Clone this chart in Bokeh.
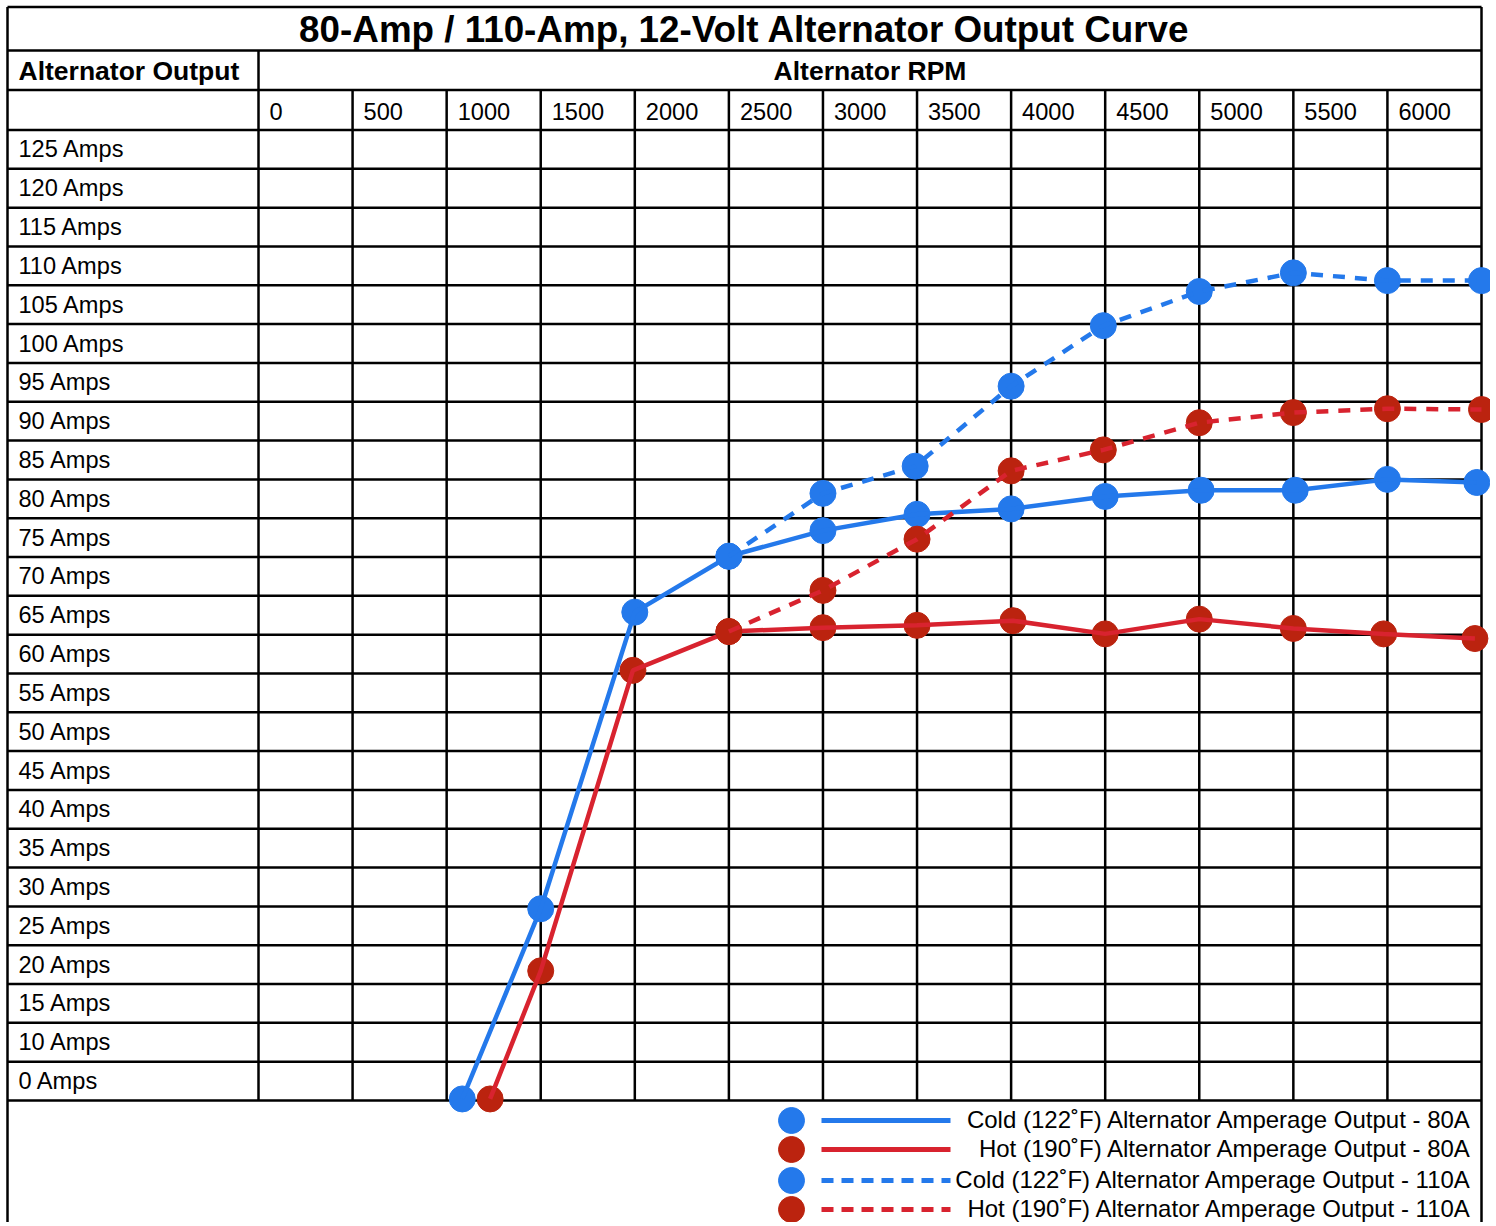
from bokeh.plotting import figure
from bokeh.models import Range1d
from bokeh.embed import file_html
from bokeh.resources import INLINE
from bokeh.core.properties import value

# ---------------- data ----------------
title_text = "80-Amp / 110-Amp, 12-Volt Alternator Output Curve"
row_header = "Alternator Output"
col_header = "Alternator RPM"

rpm_ticks = [0, 500, 1000, 1500, 2000, 2500, 3000, 3500, 4000, 4500, 5000, 5500, 6000]
rpm_max = 6500
amp_labels = ["125 Amps", "120 Amps", "115 Amps", "110 Amps", "105 Amps", "100 Amps",
              "95 Amps", "90 Amps", "85 Amps", "80 Amps", "75 Amps", "70 Amps", "65 Amps",
              "60 Amps", "55 Amps", "50 Amps", "45 Amps", "40 Amps", "35 Amps", "30 Amps",
              "25 Amps", "20 Amps", "15 Amps", "10 Amps", "0 Amps"]
amp_top = 130      # top grid line value
amp_step = 5       # amps per row

cold80_rpm = [1083, 1500, 2000, 2500, 3000, 3500, 4000, 4500, 5010, 5510, 6000, 6475]
cold80_amp = [5.2, 29.7, 67.9, 75.1, 78.4, 80.5, 81.2, 82.8, 83.6, 83.6, 85.0, 84.6]

hot80_rpm = [1231, 1500, 1990, 2500, 3000, 3500, 4010, 4500, 5000, 5500, 5980, 6465]
hot80_amp = [5.2, 21.7, 60.4, 65.4, 65.9, 66.2, 66.8, 65.1, 67.0, 65.8, 65.1, 64.5]

cold110_rpm = [2500, 3000, 3490, 4000, 4490, 5000, 5500, 6000, 6500]
cold110_amp = [75.1, 83.2, 86.7, 97.0, 104.8, 109.2, 111.6, 110.6, 110.6]

hot110_rpm = [2500, 3000, 3500, 4000, 4490, 5000, 5500, 6000, 6500]
hot110_amp = [65.4, 70.7, 77.3, 86.1, 88.8, 92.3, 93.6, 94.1, 94.0]

legend_labels = ["Cold (122˚F) Alternator Amperage Output - 80A",
                 "Hot (190˚F) Alternator Amperage Output - 80A",
                 "Cold (122˚F) Alternator Amperage Output - 110A",
                 "Hot (190˚F) Alternator Amperage Output - 110A"]

# ---------------- styles ----------------
BLUE = "#2479eb"
RED_DOT = "#bb230f"
RED_LINE = "#d8232f"
FONT = value("Liberation Sans")
GRID_W = 2.5

# layout helpers (page pixel -> data coordinates)
X0_PX, PX_PER_RPM = 258.0, (1481.0 - 258.0) / 6500.0
Y5_PX, PX_PER_AMP = 1100.0, (1100.0 - 129.5) / 125.0
ORIGIN = 0  # page pixel where the plot frame starts


def rpm_at(px):
    return (px - X0_PX) / PX_PER_RPM


def amp_at(py):
    return 5 + (Y5_PX - py) / PX_PER_AMP


W, H = 1490, 1222
p = figure(width=W, height=H, output_backend="svg", toolbar_location=None,
           x_range=Range1d(rpm_at(ORIGIN), rpm_at(ORIGIN + W)),
           y_range=Range1d(amp_at(ORIGIN + H), amp_at(ORIGIN)),
           min_border=0, outline_line_color=None)
p.xaxis.visible = False
p.yaxis.visible = False
p.xgrid.visible = False
p.ygrid.visible = False

x_left = rpm_at(7)
x_right = rpm_max
y_bottom_grid = amp_top - amp_step * len(amp_labels)
y_tickrow_top = amp_at(89.5)
y_header_top = amp_at(50)
y_top = amp_at(6.5)
y_page_bottom = amp_at(ORIGIN + H + 5)

# ---- table lines ----
h_ys = [amp_top - amp_step * i for i in range(len(amp_labels) + 1)] + [y_tickrow_top, y_header_top, y_top]
p.segment(x0=[x_left] * len(h_ys), x1=[x_right] * len(h_ys), y0=h_ys, y1=h_ys,
          line_color="black", line_width=GRID_W)
inner = rpm_ticks[1:]
p.segment(x0=inner, x1=inner, y0=[y_bottom_grid] * len(inner), y1=[y_tickrow_top] * len(inner),
          line_color="black", line_width=GRID_W)
p.segment(x0=[rpm_ticks[0]], x1=[rpm_ticks[0]], y0=[y_bottom_grid], y1=[y_header_top],
          line_color="black", line_width=GRID_W)
p.segment(x0=[x_left, x_right], x1=[x_left, x_right], y0=[y_page_bottom] * 2, y1=[y_top] * 2,
          line_color="black", line_width=GRID_W)

# ---- texts ----
p.text(x=[rpm_at(744)], y=[amp_at(28.5)], text=[title_text], text_font=FONT,
       text_font_size="36.8px", text_font_style="bold", text_align="center",
       text_baseline="middle", text_color="black")
p.text(x=[x_left], y=[amp_at(70.5)], text=[row_header], x_offset=11, text_font=FONT,
       text_font_size="26.5px", text_font_style="bold", text_align="left",
       text_baseline="middle", text_color="black")
p.text(x=[(rpm_ticks[0] + rpm_max) / 2], y=[amp_at(70.5)], text=[col_header], text_font=FONT,
       text_font_size="26.5px", text_font_style="bold", text_align="center",
       text_baseline="middle", text_color="black")
p.text(x=rpm_ticks, y=[amp_at(110.5)] * len(rpm_ticks), text=[str(t) for t in rpm_ticks],
       x_offset=11, text_font=FONT, text_font_size="23.6px", text_align="left",
       text_baseline="middle", text_color="black")
row_centers = [amp_top - amp_step * (i + 0.5) for i in range(len(amp_labels))]
p.text(x=[x_left] * len(amp_labels), y=row_centers, text=amp_labels, x_offset=11,
       text_font=FONT, text_font_size="23.6px", text_align="left",
       text_baseline="middle", text_color="black")

# ---- series ----
DOT = 26
LW = 4.5
p.scatter(cold80_rpm, cold80_amp, size=DOT, color=BLUE)
p.line(cold80_rpm, cold80_amp, line_color=BLUE, line_width=LW)
p.scatter(cold110_rpm, cold110_amp, size=DOT, color=BLUE)
p.line(cold110_rpm, cold110_amp, line_color=BLUE, line_width=LW, line_dash="12 10")
p.scatter(hot80_rpm, hot80_amp, size=DOT, color=RED_DOT)
p.line(hot80_rpm, hot80_amp, line_color=RED_LINE, line_width=LW)
p.scatter(hot110_rpm, hot110_amp, size=DOT, color=RED_DOT)
p.line(hot110_rpm, hot110_amp, line_color=RED_LINE, line_width=LW, line_dash="12 10")

# ---- legend ----
leg_y_px = [1120, 1149, 1180, 1209]
leg_ys = [amp_at(v) for v in leg_y_px]
leg_dot_colors = [BLUE, RED_DOT, BLUE, RED_DOT]
leg_line_colors = [BLUE, RED_LINE, BLUE, RED_LINE]
leg_dash = ["solid", "solid", "12 8", "12 8"]
p.scatter([rpm_at(791)] * 4, leg_ys, size=DOT, color=leg_dot_colors)
for yy, c, d in zip(leg_ys, leg_line_colors, leg_dash):
    p.line([rpm_at(821), rpm_at(950)], [yy, yy], line_color=c, line_width=5, line_dash=d)
p.text(x=[rpm_at(1472)] * 4, y=[amp_at(v - 1) for v in leg_y_px], text=legend_labels,
       text_font=FONT, text_font_size="24px", text_align="right",
       text_baseline="middle", text_color="black")

open("out.html", "w").write(file_html(p, INLINE))
